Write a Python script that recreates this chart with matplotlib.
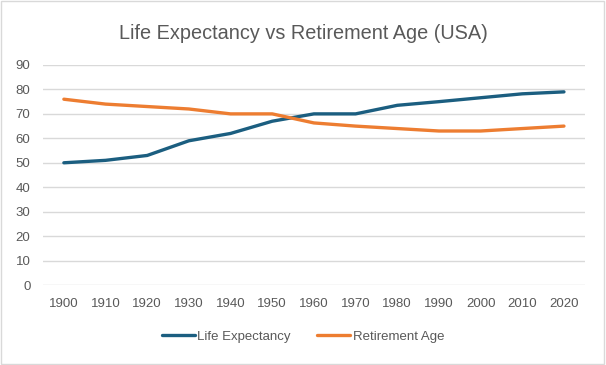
import numpy as np
import matplotlib
matplotlib.use('Agg')
import matplotlib.pyplot as plt
from matplotlib.patches import Rectangle

years = ['1900', '1910', '1920', '1930', '1940', '1950', '1960',
         '1970', '1980', '1990', '2000', '2010', '2020']
life_expectancy = [50, 51, 53, 59, 62, 67, 70, 70, 73.5, 75, 76.6, 78.2, 79]
retirement_age = [76, 74, 73, 72, 70, 70, 66.3, 65, 64, 63, 63, 64, 65]

plt.rcParams['font.family'] = ['Liberation Sans', 'DejaVu Sans']

fig = plt.figure(figsize=(6.06, 3.65), dpi=100)
fig.patches.append(Rectangle((0.002, 0.003), 0.995, 0.993, transform=fig.transFigure,
                             fill=False, edgecolor='#D9D9D9', linewidth=1))
ax = fig.add_axes([0.071, 0.219, 0.894, 0.603])

x = np.arange(len(years))
ax.plot(x, life_expectancy, color='#1B5E80', linewidth=2.4,
        solid_capstyle='round', label='Life Expectancy')
ax.plot(x, retirement_age, color='#ED7D31', linewidth=2.4,
        solid_capstyle='round', label='Retirement Age')

ax.set_xlim(-0.5, len(years) - 0.5)
ax.set_ylim(0, 90)
ax.set_yticks(range(0, 91, 10))
ax.set_xticks(x)
ax.set_xticklabels(years)
ax.grid(axis='y', color='#D9D9D9', linewidth=1)
ax.set_axisbelow(True)
for s in ax.spines.values():
    s.set_visible(False)
ax.tick_params(length=0, colors='#595959', labelsize=9.5, pad=9)

fig.text(0.5, 0.908, 'Life Expectancy vs Retirement Age (USA)', ha='center',
         va='center', fontsize=14.3, color='#595959')
fig.legend(loc='center', bbox_to_anchor=(0.5, 0.078), ncol=2, frameon=False,
           fontsize=9.5, labelcolor='#595959', handlelength=2.5, columnspacing=2.0,
           handletextpad=0.2)

fig.savefig('out.png', dpi=100)
